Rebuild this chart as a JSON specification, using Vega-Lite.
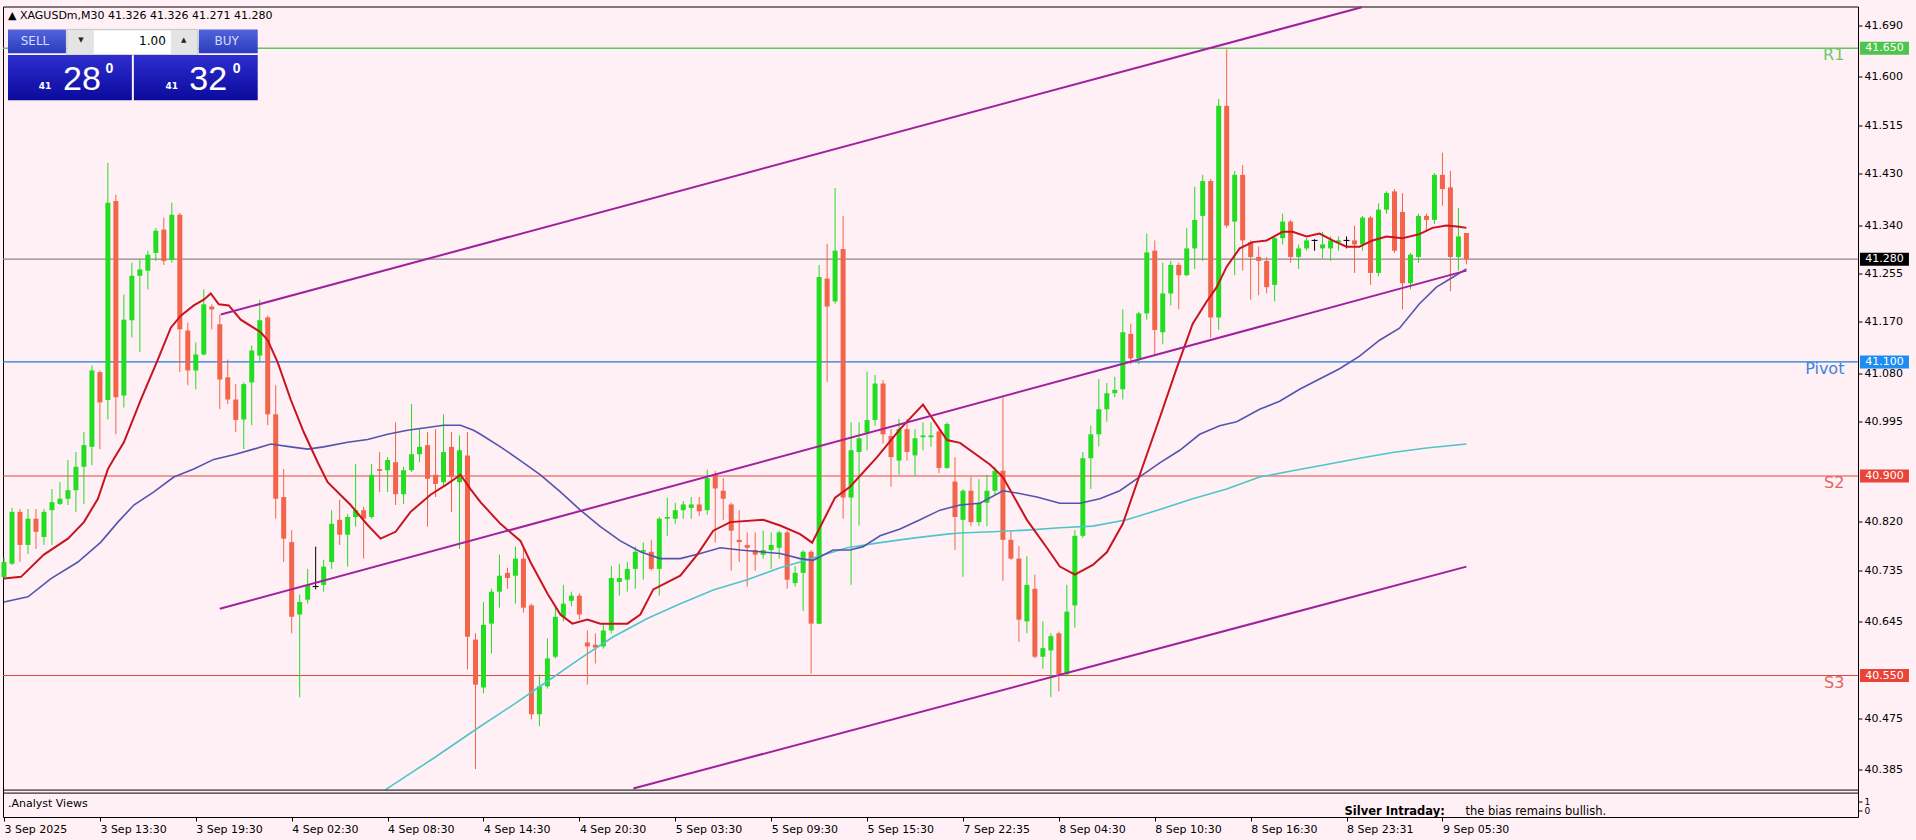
{
"$schema": "https://vega.github.io/schema/vega-lite/v6.json",
"background": "#FFF0F5",
"padding": {"left": 0, "top": 2.5, "right": 6, "bottom": 6},
"autosize": {"type": "fit", "contains": "padding"},
"width": 1916,
"height": 840,
"config": {
  "view": {"stroke": "#000000", "strokeWidth": 1, "fill": "#FFF0F5"},
  "axis": {"grid": false, "domain": false, "tickColor": "#000000", "labelColor": "#000000", "labelFont": "DejaVu Sans", "labelFontSize": 11},
  "text": {"font": "DejaVu Sans"}
},
"resolve": {"scale": {"color": "independent", "strokeWidth": "independent"}},
"datasets": {
"candles": [
{"i":0,"o":40.723,"h":40.757,"l":40.718,"c":40.749},
{"i":1,"o":40.746,"h":40.844,"l":40.744,"c":40.837},
{"i":2,"o":40.837,"h":40.842,"l":40.749,"c":40.779},
{"i":3,"o":40.779,"h":40.842,"l":40.763,"c":40.825},
{"i":4,"o":40.825,"h":40.842,"l":40.772,"c":40.802},
{"i":5,"o":40.793,"h":40.842,"l":40.779,"c":40.837},
{"i":6,"o":40.840,"h":40.877,"l":40.779,"c":40.854},
{"i":7,"o":40.851,"h":40.889,"l":40.849,"c":40.860},
{"i":8,"o":40.860,"h":40.928,"l":40.849,"c":40.875},
{"i":9,"o":40.875,"h":40.942,"l":40.837,"c":40.916},
{"i":10,"o":40.916,"h":40.977,"l":40.851,"c":40.954},
{"i":11,"o":40.951,"h":41.094,"l":40.919,"c":41.085},
{"i":12,"o":41.082,"h":41.085,"l":40.947,"c":41.029},
{"i":13,"o":41.033,"h":41.449,"l":40.999,"c":41.379},
{"i":14,"o":41.382,"h":41.393,"l":40.973,"c":41.038},
{"i":15,"o":41.041,"h":41.218,"l":41.020,"c":41.174},
{"i":16,"o":41.173,"h":41.274,"l":41.143,"c":41.251},
{"i":17,"o":41.251,"h":41.279,"l":41.117,"c":41.262},
{"i":18,"o":41.260,"h":41.295,"l":41.227,"c":41.288},
{"i":19,"o":41.291,"h":41.335,"l":41.277,"c":41.330},
{"i":20,"o":41.332,"h":41.353,"l":41.270,"c":41.277},
{"i":21,"o":41.279,"h":41.379,"l":41.274,"c":41.358},
{"i":22,"o":41.358,"h":41.361,"l":41.082,"c":41.157},
{"i":23,"o":41.155,"h":41.169,"l":41.059,"c":41.085},
{"i":24,"o":41.085,"h":41.134,"l":41.052,"c":41.113},
{"i":25,"o":41.113,"h":41.227,"l":41.111,"c":41.201},
{"i":26,"o":41.197,"h":41.201,"l":41.157,"c":41.192},
{"i":27,"o":41.166,"h":41.183,"l":41.017,"c":41.069},
{"i":28,"o":41.073,"h":41.104,"l":41.026,"c":41.034},
{"i":29,"o":41.034,"h":41.061,"l":40.977,"c":40.998},
{"i":30,"o":40.999,"h":41.064,"l":40.947,"c":41.061},
{"i":31,"o":41.064,"h":41.129,"l":40.989,"c":41.120},
{"i":32,"o":41.111,"h":41.209,"l":41.099,"c":41.173},
{"i":33,"o":41.178,"h":41.181,"l":40.989,"c":41.008},
{"i":34,"o":41.008,"h":41.059,"l":40.825,"c":40.860},
{"i":35,"o":40.863,"h":40.912,"l":40.749,"c":40.790},
{"i":36,"o":40.784,"h":40.805,"l":40.624,"c":40.653},
{"i":37,"o":40.657,"h":40.692,"l":40.512,"c":40.679},
{"i":38,"o":40.683,"h":40.737,"l":40.676,"c":40.709},
{"i":39,"o":40.706,"h":40.776,"l":40.701,"c":40.706},
{"i":40,"o":40.709,"h":40.753,"l":40.697,"c":40.741},
{"i":41,"o":40.749,"h":40.840,"l":40.737,"c":40.816},
{"i":42,"o":40.823,"h":40.858,"l":40.779,"c":40.797},
{"i":43,"o":40.797,"h":40.833,"l":40.741,"c":40.828},
{"i":44,"o":40.828,"h":40.921,"l":40.811,"c":40.840},
{"i":45,"o":40.840,"h":40.846,"l":40.755,"c":40.825},
{"i":46,"o":40.828,"h":40.921,"l":40.825,"c":40.902},
{"i":47,"o":40.912,"h":40.942,"l":40.872,"c":40.909},
{"i":48,"o":40.910,"h":40.933,"l":40.872,"c":40.928},
{"i":49,"o":40.924,"h":40.994,"l":40.849,"c":40.868},
{"i":50,"o":40.868,"h":40.916,"l":40.851,"c":40.910},
{"i":51,"o":40.910,"h":41.026,"l":40.907,"c":40.938},
{"i":52,"o":40.938,"h":40.982,"l":40.924,"c":40.951},
{"i":53,"o":40.954,"h":40.977,"l":40.811,"c":40.895},
{"i":54,"o":40.902,"h":40.982,"l":40.863,"c":40.886},
{"i":55,"o":40.889,"h":41.008,"l":40.881,"c":40.942},
{"i":56,"o":40.951,"h":40.977,"l":40.837,"c":40.898},
{"i":57,"o":40.889,"h":40.971,"l":40.772,"c":40.945},
{"i":58,"o":40.936,"h":40.977,"l":40.561,"c":40.618},
{"i":59,"o":40.613,"h":40.624,"l":40.386,"c":40.534},
{"i":60,"o":40.529,"h":40.679,"l":40.519,"c":40.639},
{"i":61,"o":40.641,"h":40.702,"l":40.589,"c":40.697},
{"i":62,"o":40.697,"h":40.762,"l":40.669,"c":40.725},
{"i":63,"o":40.730,"h":40.739,"l":40.702,"c":40.721},
{"i":64,"o":40.725,"h":40.776,"l":40.676,"c":40.755},
{"i":65,"o":40.755,"h":40.774,"l":40.660,"c":40.669},
{"i":66,"o":40.673,"h":40.676,"l":40.473,"c":40.482},
{"i":67,"o":40.482,"h":40.552,"l":40.461,"c":40.531},
{"i":68,"o":40.531,"h":40.615,"l":40.527,"c":40.580},
{"i":69,"o":40.583,"h":40.671,"l":40.580,"c":40.653},
{"i":70,"o":40.653,"h":40.709,"l":40.645,"c":40.676},
{"i":71,"o":40.681,"h":40.697,"l":40.671,"c":40.690},
{"i":72,"o":40.690,"h":40.694,"l":40.648,"c":40.657},
{"i":73,"o":40.608,"h":40.629,"l":40.534,"c":40.601},
{"i":74,"o":40.604,"h":40.624,"l":40.571,"c":40.599},
{"i":75,"o":40.601,"h":40.639,"l":40.597,"c":40.629},
{"i":76,"o":40.629,"h":40.742,"l":40.624,"c":40.721},
{"i":77,"o":40.714,"h":40.746,"l":40.690,"c":40.721},
{"i":78,"o":40.718,"h":40.749,"l":40.697,"c":40.737},
{"i":79,"o":40.737,"h":40.776,"l":40.702,"c":40.767},
{"i":80,"o":40.767,"h":40.783,"l":40.718,"c":40.770},
{"i":81,"o":40.767,"h":40.788,"l":40.734,"c":40.737},
{"i":82,"o":40.737,"h":40.828,"l":40.690,"c":40.825},
{"i":83,"o":40.825,"h":40.862,"l":40.795,"c":40.828},
{"i":84,"o":40.825,"h":40.853,"l":40.816,"c":40.840},
{"i":85,"o":40.840,"h":40.856,"l":40.825,"c":40.850},
{"i":86,"o":40.844,"h":40.863,"l":40.825,"c":40.850},
{"i":87,"o":40.850,"h":40.863,"l":40.830,"c":40.838},
{"i":88,"o":40.840,"h":40.911,"l":40.832,"c":40.896},
{"i":89,"o":40.902,"h":40.909,"l":40.783,"c":40.878},
{"i":90,"o":40.874,"h":40.896,"l":40.823,"c":40.860},
{"i":91,"o":40.850,"h":40.853,"l":40.734,"c":40.804},
{"i":92,"o":40.788,"h":40.840,"l":40.749,"c":40.784},
{"i":93,"o":40.779,"h":40.801,"l":40.706,"c":40.774},
{"i":94,"o":40.770,"h":40.801,"l":40.734,"c":40.762},
{"i":95,"o":40.762,"h":40.804,"l":40.755,"c":40.770},
{"i":96,"o":40.770,"h":40.801,"l":40.737,"c":40.779},
{"i":97,"o":40.774,"h":40.804,"l":40.755,"c":40.801},
{"i":98,"o":40.801,"h":40.804,"l":40.702,"c":40.718},
{"i":99,"o":40.712,"h":40.742,"l":40.706,"c":40.730},
{"i":100,"o":40.730,"h":40.770,"l":40.663,"c":40.767},
{"i":101,"o":40.767,"h":40.770,"l":40.553,"c":40.641},
{"i":102,"o":40.641,"h":41.270,"l":40.640,"c":41.249},
{"i":103,"o":41.246,"h":41.307,"l":41.065,"c":41.197},
{"i":104,"o":41.206,"h":41.405,"l":41.202,"c":41.295},
{"i":105,"o":41.298,"h":41.356,"l":40.825,"c":40.862},
{"i":106,"o":40.862,"h":40.994,"l":40.709,"c":40.945},
{"i":107,"o":40.942,"h":40.994,"l":40.813,"c":40.966},
{"i":108,"o":40.976,"h":41.083,"l":40.945,"c":40.998},
{"i":109,"o":40.998,"h":41.077,"l":40.988,"c":41.062},
{"i":110,"o":41.062,"h":41.068,"l":40.957,"c":40.973},
{"i":111,"o":40.970,"h":40.982,"l":40.881,"c":40.933},
{"i":112,"o":40.927,"h":41.000,"l":40.902,"c":40.982},
{"i":113,"o":40.982,"h":41.000,"l":40.927,"c":40.942},
{"i":114,"o":40.936,"h":40.982,"l":40.900,"c":40.966},
{"i":115,"o":40.968,"h":40.994,"l":40.945,"c":40.971},
{"i":116,"o":40.968,"h":40.994,"l":40.951,"c":40.971},
{"i":117,"o":40.978,"h":40.982,"l":40.905,"c":40.914},
{"i":118,"o":40.914,"h":40.994,"l":40.912,"c":40.991},
{"i":119,"o":40.890,"h":40.933,"l":40.770,"c":40.828},
{"i":120,"o":40.823,"h":40.877,"l":40.723,"c":40.874},
{"i":121,"o":40.874,"h":40.898,"l":40.812,"c":40.819},
{"i":122,"o":40.819,"h":40.894,"l":40.812,"c":40.853},
{"i":123,"o":40.853,"h":40.902,"l":40.812,"c":40.874},
{"i":124,"o":40.874,"h":40.916,"l":40.867,"c":40.909},
{"i":125,"o":40.909,"h":41.038,"l":40.716,"c":40.788},
{"i":126,"o":40.788,"h":40.805,"l":40.753,"c":40.755},
{"i":127,"o":40.755,"h":40.777,"l":40.609,"c":40.648},
{"i":128,"o":40.645,"h":40.759,"l":40.624,"c":40.709},
{"i":129,"o":40.702,"h":40.727,"l":40.580,"c":40.583},
{"i":130,"o":40.583,"h":40.645,"l":40.562,"c":40.598},
{"i":131,"o":40.594,"h":40.624,"l":40.512,"c":40.619},
{"i":132,"o":40.624,"h":40.627,"l":40.522,"c":40.552},
{"i":133,"o":40.552,"h":40.709,"l":40.548,"c":40.662},
{"i":134,"o":40.673,"h":40.805,"l":40.634,"c":40.795},
{"i":135,"o":40.795,"h":40.942,"l":40.791,"c":40.931},
{"i":136,"o":40.931,"h":40.988,"l":40.877,"c":40.973},
{"i":137,"o":40.973,"h":41.070,"l":40.952,"c":41.017},
{"i":138,"o":41.017,"h":41.063,"l":40.995,"c":41.045},
{"i":139,"o":41.045,"h":41.074,"l":41.038,"c":41.051},
{"i":140,"o":41.052,"h":41.192,"l":41.034,"c":41.152},
{"i":141,"o":41.149,"h":41.167,"l":41.096,"c":41.106},
{"i":142,"o":41.106,"h":41.188,"l":41.096,"c":41.185},
{"i":143,"o":41.185,"h":41.325,"l":41.174,"c":41.292},
{"i":144,"o":41.295,"h":41.313,"l":41.113,"c":41.156},
{"i":145,"o":41.152,"h":41.274,"l":41.131,"c":41.220},
{"i":146,"o":41.220,"h":41.277,"l":41.199,"c":41.270},
{"i":147,"o":41.270,"h":41.274,"l":41.192,"c":41.252},
{"i":148,"o":41.252,"h":41.335,"l":41.250,"c":41.299},
{"i":149,"o":41.299,"h":41.407,"l":41.263,"c":41.349},
{"i":150,"o":41.356,"h":41.428,"l":41.277,"c":41.417},
{"i":151,"o":41.417,"h":41.421,"l":41.142,"c":41.178},
{"i":152,"o":41.178,"h":41.561,"l":41.156,"c":41.549},
{"i":153,"o":41.549,"h":41.648,"l":41.335,"c":41.339},
{"i":154,"o":41.346,"h":41.435,"l":41.252,"c":41.428},
{"i":155,"o":41.428,"h":41.445,"l":41.260,"c":41.313},
{"i":156,"o":41.310,"h":41.313,"l":41.209,"c":41.284},
{"i":157,"o":41.284,"h":41.302,"l":41.217,"c":41.277},
{"i":158,"o":41.277,"h":41.284,"l":41.220,"c":41.231},
{"i":159,"o":41.235,"h":41.320,"l":41.206,"c":41.317},
{"i":160,"o":41.317,"h":41.360,"l":41.306,"c":41.346},
{"i":161,"o":41.346,"h":41.349,"l":41.274,"c":41.284},
{"i":162,"o":41.284,"h":41.306,"l":41.263,"c":41.299},
{"i":163,"o":41.299,"h":41.317,"l":41.295,"c":41.313},
{"i":164,"o":41.313,"h":41.315,"l":41.295,"c":41.313},
{"i":165,"o":41.299,"h":41.328,"l":41.281,"c":41.306},
{"i":166,"o":41.299,"h":41.320,"l":41.277,"c":41.313},
{"i":167,"o":41.310,"h":41.320,"l":41.295,"c":41.313},
{"i":168,"o":41.313,"h":41.320,"l":41.299,"c":41.313},
{"i":169,"o":41.313,"h":41.339,"l":41.256,"c":41.306},
{"i":170,"o":41.306,"h":41.356,"l":41.295,"c":41.353},
{"i":171,"o":41.353,"h":41.356,"l":41.235,"c":41.256},
{"i":172,"o":41.256,"h":41.378,"l":41.250,"c":41.367},
{"i":173,"o":41.367,"h":41.399,"l":41.360,"c":41.396},
{"i":174,"o":41.399,"h":41.403,"l":41.291,"c":41.295},
{"i":175,"o":41.363,"h":41.396,"l":41.192,"c":41.238},
{"i":176,"o":41.238,"h":41.291,"l":41.227,"c":41.288},
{"i":177,"o":41.284,"h":41.360,"l":41.274,"c":41.356},
{"i":178,"o":41.356,"h":41.360,"l":41.328,"c":41.349},
{"i":179,"o":41.349,"h":41.431,"l":41.342,"c":41.428},
{"i":180,"o":41.428,"h":41.467,"l":41.374,"c":41.403},
{"i":181,"o":41.406,"h":41.435,"l":41.224,"c":41.284},
{"i":182,"o":41.284,"h":41.370,"l":41.260,"c":41.320},
{"i":183,"o":41.326,"h":41.326,"l":41.271,"c":41.280}
],
"ma": [
{"m":"fast","i":0,"p":40.720},{"m":"fast","i":2.125,"p":40.723},{"m":"fast","i":5,"p":40.762},{"m":"fast","i":8,"p":40.790},{"m":"fast","i":10,"p":40.819},{"m":"fast","i":11.75,"p":40.860},{"m":"fast","i":13,"p":40.912},{"m":"fast","i":13.75,"p":40.930},{"m":"fast","i":15,"p":40.959},{"m":"fast","i":17.125,"p":41.034},{"m":"fast","i":19.25,"p":41.104},{"m":"fast","i":20.875,"p":41.160},{"m":"fast","i":22.125,"p":41.181},{"m":"fast","i":23.75,"p":41.199},{"m":"fast","i":25,"p":41.209},{"m":"fast","i":25.875,"p":41.220},{"m":"fast","i":26.875,"p":41.201},{"m":"fast","i":28.125,"p":41.199},{"m":"fast","i":29.625,"p":41.174},{"m":"fast","i":32.125,"p":41.152},{"m":"fast","i":33,"p":41.138},{"m":"fast","i":34.25,"p":41.099},{"m":"fast","i":35.875,"p":41.034},{"m":"fast","i":37.5,"p":40.977},{"m":"fast","i":39.25,"p":40.924},{"m":"fast","i":40.5,"p":40.889},{"m":"fast","i":43.375,"p":40.849},{"m":"fast","i":45.5,"p":40.814},{"m":"fast","i":47.125,"p":40.790},{"m":"fast","i":49,"p":40.802},{"m":"fast","i":50.875,"p":40.837},{"m":"fast","i":53.375,"p":40.867},{"m":"fast","i":55.5,"p":40.886},{"m":"fast","i":57.125,"p":40.902},{"m":"fast","i":58.375,"p":40.877},{"m":"fast","i":59.625,"p":40.854},{"m":"fast","i":62.125,"p":40.816},{"m":"fast","i":64.625,"p":40.786},{"m":"fast","i":65.875,"p":40.749},{"m":"fast","i":68,"p":40.694},{"m":"fast","i":69.625,"p":40.657},{"m":"fast","i":71.125,"p":40.641},{"m":"fast","i":73,"p":40.648},{"m":"fast","i":74.625,"p":40.641},{"m":"fast","i":78,"p":40.641},{"m":"fast","i":79.625,"p":40.657},{"m":"fast","i":81.25,"p":40.701},{"m":"fast","i":84.625,"p":40.725},{"m":"fast","i":86.75,"p":40.762},{"m":"fast","i":88.75,"p":40.804},{"m":"fast","i":90.875,"p":40.819},{"m":"fast","i":95,"p":40.823},{"m":"fast","i":97.125,"p":40.813},{"m":"fast","i":99.625,"p":40.798},{"m":"fast","i":101.125,"p":40.783},{"m":"fast","i":104,"p":40.862},{"m":"fast","i":105.875,"p":40.881},{"m":"fast","i":109.25,"p":40.933},{"m":"fast","i":112.125,"p":40.982},{"m":"fast","i":115,"p":41.025},{"m":"fast","i":118,"p":40.963},{"m":"fast","i":119.625,"p":40.958},{"m":"fast","i":123.375,"p":40.920},{"m":"fast","i":125,"p":40.898},{"m":"fast","i":128,"p":40.823},{"m":"fast","i":130.5,"p":40.774},{"m":"fast","i":132.125,"p":40.741},{"m":"fast","i":134,"p":40.727},{"m":"fast","i":136.25,"p":40.744},{"m":"fast","i":138,"p":40.766},{"m":"fast","i":140,"p":40.816},{"m":"fast","i":142.125,"p":40.902},{"m":"fast","i":144.625,"p":41.002},{"m":"fast","i":146.75,"p":41.089},{"m":"fast","i":148.75,"p":41.167},{"m":"fast","i":150.5,"p":41.206},{"m":"fast","i":151.75,"p":41.231},{"m":"fast","i":153,"p":41.267},{"m":"fast","i":154.625,"p":41.299},{"m":"fast","i":156.25,"p":41.310},{"m":"fast","i":158,"p":41.313},{"m":"fast","i":160,"p":41.328},{"m":"fast","i":161.25,"p":41.328},{"m":"fast","i":163,"p":41.320},{"m":"fast","i":164.625,"p":41.325},{"m":"fast","i":166.25,"p":41.313},{"m":"fast","i":168,"p":41.302},{"m":"fast","i":169.625,"p":41.302},{"m":"fast","i":171.25,"p":41.313},{"m":"fast","i":173,"p":41.320},{"m":"fast","i":175,"p":41.317},{"m":"fast","i":177.125,"p":41.324},{"m":"fast","i":178.75,"p":41.335},{"m":"fast","i":180.5,"p":41.339},{"m":"fast","i":182.125,"p":41.337},{"m":"fast","i":183,"p":41.335},
{"m":"slow","i":0,"p":40.679},{"m":"slow","i":3,"p":40.688},{"m":"slow","i":5.875,"p":40.720},{"m":"slow","i":9.25,"p":40.749},{"m":"slow","i":12.125,"p":40.784},{"m":"slow","i":14.25,"p":40.819},{"m":"slow","i":16.25,"p":40.849},{"m":"slow","i":18.75,"p":40.872},{"m":"slow","i":21.25,"p":40.898},{"m":"slow","i":23.75,"p":40.912},{"m":"slow","i":26.25,"p":40.929},{"m":"slow","i":28.75,"p":40.937},{"m":"slow","i":31.25,"p":40.947},{"m":"slow","i":33.375,"p":40.956},{"m":"slow","i":35.875,"p":40.951},{"m":"slow","i":38,"p":40.947},{"m":"slow","i":40,"p":40.951},{"m":"slow","i":43,"p":40.959},{"m":"slow","i":45.5,"p":40.964},{"m":"slow","i":48,"p":40.973},{"m":"slow","i":50.5,"p":40.980},{"m":"slow","i":53,"p":40.985},{"m":"slow","i":55,"p":40.989},{"m":"slow","i":57.125,"p":40.989},{"m":"slow","i":58.75,"p":40.980},{"m":"slow","i":59.625,"p":40.973},{"m":"slow","i":62.125,"p":40.951},{"m":"slow","i":64.625,"p":40.927},{"m":"slow","i":67.125,"p":40.902},{"m":"slow","i":69.625,"p":40.872},{"m":"slow","i":72.125,"p":40.840},{"m":"slow","i":74.625,"p":40.811},{"m":"slow","i":77.125,"p":40.786},{"m":"slow","i":79.625,"p":40.767},{"m":"slow","i":82.125,"p":40.755},{"m":"slow","i":84.625,"p":40.755},{"m":"slow","i":87.125,"p":40.764},{"m":"slow","i":89.625,"p":40.774},{"m":"slow","i":92.125,"p":40.770},{"m":"slow","i":94.625,"p":40.767},{"m":"slow","i":97.125,"p":40.764},{"m":"slow","i":99.625,"p":40.755},{"m":"slow","i":101.25,"p":40.752},{"m":"slow","i":103.75,"p":40.770},{"m":"slow","i":105.875,"p":40.770},{"m":"slow","i":107.5,"p":40.776},{"m":"slow","i":109.625,"p":40.795},{"m":"slow","i":112.125,"p":40.807},{"m":"slow","i":114.625,"p":40.823},{"m":"slow","i":117.125,"p":40.840},{"m":"slow","i":119.625,"p":40.849},{"m":"slow","i":122.125,"p":40.852},{"m":"slow","i":125,"p":40.874},{"m":"slow","i":126.75,"p":40.870},{"m":"slow","i":129.25,"p":40.863},{"m":"slow","i":132.125,"p":40.852},{"m":"slow","i":134.625,"p":40.852},{"m":"slow","i":137.125,"p":40.860},{"m":"slow","i":139.625,"p":40.874},{"m":"slow","i":141.75,"p":40.895},{"m":"slow","i":144.625,"p":40.923},{"m":"slow","i":147.125,"p":40.945},{"m":"slow","i":149.625,"p":40.973},{"m":"slow","i":152.125,"p":40.988},{"m":"slow","i":154.25,"p":40.995},{"m":"slow","i":157.125,"p":41.017},{"m":"slow","i":159.625,"p":41.031},{"m":"slow","i":162.125,"p":41.052},{"m":"slow","i":164.625,"p":41.070},{"m":"slow","i":167.125,"p":41.088},{"m":"slow","i":169.625,"p":41.110},{"m":"slow","i":172.125,"p":41.138},{"m":"slow","i":174.625,"p":41.159},{"m":"slow","i":177.125,"p":41.202},{"m":"slow","i":179.25,"p":41.231},{"m":"slow","i":180.875,"p":41.245},{"m":"slow","i":183,"p":41.263},
{"m":"long","i":47.75,"p":40.350},{"m":"long","i":53.75,"p":40.405},{"m":"long","i":59.625,"p":40.461},{"m":"long","i":63.75,"p":40.499},{"m":"long","i":68,"p":40.540},{"m":"long","i":72.125,"p":40.580},{"m":"long","i":76.25,"p":40.618},{"m":"long","i":80.5,"p":40.650},{"m":"long","i":84.625,"p":40.676},{"m":"long","i":88.75,"p":40.700},{"m":"long","i":93,"p":40.718},{"m":"long","i":97.125,"p":40.739},{"m":"long","i":99.625,"p":40.749},{"m":"long","i":101.25,"p":40.756},{"m":"long","i":105.5,"p":40.774},{"m":"long","i":109.625,"p":40.783},{"m":"long","i":113.75,"p":40.791},{"m":"long","i":118,"p":40.798},{"m":"long","i":119.625,"p":40.800},{"m":"long","i":123.75,"p":40.802},{"m":"long","i":128,"p":40.805},{"m":"long","i":132.125,"p":40.809},{"m":"long","i":136.25,"p":40.812},{"m":"long","i":140.5,"p":40.823},{"m":"long","i":144.625,"p":40.841},{"m":"long","i":148.75,"p":40.860},{"m":"long","i":153,"p":40.877},{"m":"long","i":157.125,"p":40.898},{"m":"long","i":161.25,"p":40.909},{"m":"long","i":165.5,"p":40.920},{"m":"long","i":169.625,"p":40.931},{"m":"long","i":173.75,"p":40.941},{"m":"long","i":178,"p":40.949},{"m":"long","i":183,"p":40.956}
],
"chan": [
{"g":"upper","i":27.125,"p":41.183},{"g":"upper","i":169.9,"p":41.722},
{"g":"mid","i":27.0,"p":40.667},{"g":"mid","i":183.0,"p":41.260},
{"g":"lower","i":78.75,"p":40.352},{"g":"lower","i":183.0,"p":40.741}
],
"levels": [
{"name":"R1","price":41.650},
{"name":"Bid","price":41.280},
{"name":"Pivot","price":41.100},
{"name":"S2","price":40.900},
{"name":"S3","price":40.550}
]
},
"layer": [
{"data": {"name": "levels"}, "mark": {"type": "rule"},
 "encoding": {
  "y": {"field": "price", "type": "quantitative", "title": null, "scale": {"domain": [40.3019, 41.7232], "nice": false, "zero": false},
        "axis": {"orient": "right", "values": [41.69, 41.6, 41.515, 41.43, 41.34, 41.255, 41.17, 41.08, 40.995, 40.82, 40.735, 40.645, 40.475, 40.385, 40.3298, 40.3141],
                 "labelExpr": "datum.value < 40.34 ? (datum.value > 40.32 ? '1' : '0') : format(datum.value, '.3f')",
                 "labelFontSize": {"condition": {"test": "datum.value < 40.34", "value": 9}, "value": 11},
                 "tickSize": 4, "labelPadding": 2, "labelOverlap": false, "labelFlush": false, "labelBound": false, "title": null}},
  "color": {"field": "name", "type": "nominal", "legend": null, "scale": {"domain": ["R1", "Bid", "Pivot", "S2", "S3"], "range": ["#63C463", "#8A8A8A", "#1F7BD8", "#E4453A", "#D9463A"]}},
  "strokeWidth": {"field": "name", "type": "nominal", "legend": null, "scale": {"domain": ["R1", "Bid", "Pivot", "S2", "S3"], "range": [1.3, 1, 2, 1.6, 2]}}
 }},
{"data": {"name": "candles"}, "mark": {"type": "rule", "strokeWidth": 1},
 "encoding": {
  "x": {"field": "i", "type": "quantitative", "title": null, "scale": {"domain": [-0.125, 232], "nice": false, "zero": false},
        "axis": {"orient": "bottom", "values": [0, 12, 24, 36, 48, 60, 72, 84, 96, 108, 120, 132, 144, 156, 168, 180],
                 "labelExpr": "['3 Sep 2025','3 Sep 13:30','3 Sep 19:30','4 Sep 02:30','4 Sep 08:30','4 Sep 14:30','4 Sep 20:30','5 Sep 03:30','5 Sep 09:30','5 Sep 15:30','7 Sep 22:35','8 Sep 04:30','8 Sep 10:30','8 Sep 16:30','8 Sep 23:31','9 Sep 05:30'][round(datum.value / 12)]",
                 "labelAlign": "left", "labelPadding": 2, "tickSize": 4, "labelOverlap": false, "labelFlush": false, "labelBound": false, "title": null}},
  "y": {"field": "l", "type": "quantitative", "title": null},
  "y2": {"field": "h"},
  "color": {"condition": [{"test": "datum.c > datum.o", "value": "#22DD22"}, {"test": "datum.c == datum.o", "value": "#000000"}], "value": "#F2654A"}
 }},
{"data": {"name": "candles"}, "mark": {"type": "rule", "strokeWidth": 5, "strokeCap": "butt"},
 "encoding": {
  "x": {"field": "i", "type": "quantitative", "title": null},
  "y": {"field": "o", "type": "quantitative", "title": null},
  "y2": {"field": "c"},
  "color": {"condition": [{"test": "datum.c > datum.o", "value": "#22DD22"}, {"test": "datum.c == datum.o", "value": "#000000"}], "value": "#F2654A"}
 }},
{"data": {"name": "candles"}, "transform": [{"filter": "datum.c == datum.o"}], "mark": {"type": "point", "shape": "M-1,0H1", "size": 36, "filled": false, "stroke": "#000000", "strokeWidth": 1, "opacity": 1},
 "encoding": {
  "x": {"field": "i", "type": "quantitative", "title": null},
  "y": {"field": "o", "type": "quantitative", "title": null}
 }},
{"data": {"name": "ma"}, "transform": [{"filter": "datum.m == 'long'"}], "mark": {"type": "line", "color": "#4EC5CB", "strokeWidth": 1.6},
 "encoding": {"x": {"field": "i", "type": "quantitative", "title": null}, "y": {"field": "p", "type": "quantitative", "title": null}}},
{"data": {"name": "ma"}, "transform": [{"filter": "datum.m == 'slow'"}], "mark": {"type": "line", "color": "#5454AE", "strokeWidth": 1.6},
 "encoding": {"x": {"field": "i", "type": "quantitative", "title": null}, "y": {"field": "p", "type": "quantitative", "title": null}}},
{"data": {"name": "ma"}, "transform": [{"filter": "datum.m == 'fast'"}], "mark": {"type": "line", "color": "#C8141E", "strokeWidth": 2},
 "encoding": {"x": {"field": "i", "type": "quantitative", "title": null}, "y": {"field": "p", "type": "quantitative", "title": null}}},
{"data": {"name": "chan"}, "mark": {"type": "line", "color": "#A0219E", "strokeWidth": 2},
 "encoding": {"x": {"field": "i", "type": "quantitative", "title": null}, "y": {"field": "p", "type": "quantitative", "title": null}, "detail": {"field": "g"}}},
{"data": {"values": [{}]}, "mark": {"type": "rule", "color": "#000000", "strokeWidth": 1},
 "encoding": {"y": {"datum": 40.3491, "type": "quantitative", "title": null}}},
{"data": {"values": [{}]}, "mark": {"type": "rule", "color": "#000000", "strokeWidth": 1},
 "encoding": {"y": {"datum": 40.3438, "type": "quantitative", "title": null}}},
{"data": {"name": "levels"}, "transform": [{"filter": "datum.name != 'Bid'"}], "mark": {"type": "text", "align": "right", "baseline": "top", "dy": -1, "fontSize": 16, "font": "DejaVu Sans"},
 "encoding": {
  "x": {"datum": 230.3, "type": "quantitative", "title": null},
  "y": {"field": "price", "type": "quantitative", "title": null},
  "text": {"field": "name"},
  "color": {"field": "name", "type": "nominal", "legend": null, "scale": {"domain": ["R1", "Pivot", "S2", "S3"], "range": ["#6CC76C", "#3A86D8", "#E0675C", "#E0675C"]}}
 }},
{"data": {"name": "levels"}, "mark": {"type": "point", "shape": "M-1,-0.2653H1V0.2653H-1Z", "size": 2401, "filled": true, "opacity": 1, "strokeWidth": 0},
 "encoding": {
  "x": {"datum": 235.31, "type": "quantitative", "title": null},
  "y": {"field": "price", "type": "quantitative", "title": null},
  "color": {"field": "name", "type": "nominal", "legend": null, "scale": {"domain": ["R1", "Bid", "Pivot", "S2", "S3"], "range": ["#4DC44D", "#000000", "#1E8CF0", "#EA4438", "#EA4438"]}}
 }},
{"data": {"name": "levels"}, "mark": {"type": "text", "align": "center", "baseline": "middle", "fontSize": 11, "color": "#FFFFFF", "font": "DejaVu Sans"},
 "encoding": {
  "x": {"datum": 235.31, "type": "quantitative", "title": null},
  "y": {"field": "price", "type": "quantitative", "title": null},
  "text": {"field": "price", "type": "quantitative", "format": ".3f"}
 }},
{"data": {"values": [{}]}, "mark": {"type": "text", "align": "left", "baseline": "middle", "fontSize": 11, "color": "#000000", "font": "DejaVu Sans"},
 "encoding": {"x": {"datum": 0.5, "type": "quantitative", "title": null}, "y": {"datum": 41.706, "type": "quantitative", "title": null}, "text": {"value": "▲ XAGUSDm,M30  41.326 41.326 41.271 41.280"}}},
{"data": {"values": [{}]}, "mark": {"type": "rect", "color": {"gradient": "linear", "x1": 0, "y1": 0, "x2": 0, "y2": 1, "stops": [{"offset": 0, "color": "#5264DA"}, {"offset": 1, "color": "#2A3CBE"}]}},
 "encoding": {"x": {"datum": 0.5, "type": "quantitative", "title": null}, "x2": {"datum": 7.75}, "y": {"datum": 41.683, "type": "quantitative", "title": null}, "y2": {"datum": 41.641}}},
{"data": {"values": [{}]}, "mark": {"type": "rect", "color": {"gradient": "linear", "x1": 0, "y1": 0, "x2": 0, "y2": 1, "stops": [{"offset": 0, "color": "#5264DA"}, {"offset": 1, "color": "#2A3CBE"}]}},
 "encoding": {"x": {"datum": 24.375, "type": "quantitative", "title": null}, "x2": {"datum": 31.75}, "y": {"datum": 41.683, "type": "quantitative", "title": null}, "y2": {"datum": 41.641}}},
{"data": {"values": [{}]}, "mark": {"type": "rect", "color": "#E4E4E4", "stroke": "#C8C8C8", "strokeWidth": 1},
 "encoding": {"x": {"datum": 7.875, "type": "quantitative", "title": null}, "x2": {"datum": 24.25}, "y": {"datum": 41.683, "type": "quantitative", "title": null}, "y2": {"datum": 41.638}}},
{"data": {"values": [{}]}, "mark": {"type": "rect", "color": "#FFFFFF"},
 "encoding": {"x": {"datum": 11.25, "type": "quantitative", "title": null}, "x2": {"datum": 20.875}, "y": {"datum": 41.681, "type": "quantitative", "title": null}, "y2": {"datum": 41.640}}},
{"data": {"values": [{}]}, "mark": {"type": "rect", "color": {"gradient": "linear", "x1": 0, "y1": 0, "x2": 0, "y2": 1, "stops": [{"offset": 0, "color": "#2E2ED0"}, {"offset": 1, "color": "#0A0A9C"}]}},
 "encoding": {"x": {"datum": 0.5, "type": "quantitative", "title": null}, "x2": {"datum": 16.0}, "y": {"datum": 41.638, "type": "quantitative", "title": null}, "y2": {"datum": 41.559}}},
{"data": {"values": [{}]}, "mark": {"type": "rect", "color": {"gradient": "linear", "x1": 0, "y1": 0, "x2": 0, "y2": 1, "stops": [{"offset": 0, "color": "#2E2ED0"}, {"offset": 1, "color": "#0A0A9C"}]}},
 "encoding": {"x": {"datum": 16.25, "type": "quantitative", "title": null}, "x2": {"datum": 31.75}, "y": {"datum": 41.638, "type": "quantitative", "title": null}, "y2": {"datum": 41.559}}},
{"data": {"values": [{}]}, "mark": {"type": "text", "align": "center", "baseline": "middle", "fontSize": 12, "color": "#D6DCFF", "font": "DejaVu Sans"},
 "encoding": {"x": {"datum": 3.875, "type": "quantitative", "title": null}, "y": {"datum": 41.662, "type": "quantitative", "title": null}, "text": {"value": "SELL"}}},
{"data": {"values": [{}]}, "mark": {"type": "text", "align": "center", "baseline": "middle", "fontSize": 12, "color": "#D6DCFF", "font": "DejaVu Sans"},
 "encoding": {"x": {"datum": 27.875, "type": "quantitative", "title": null}, "y": {"datum": 41.662, "type": "quantitative", "title": null}, "text": {"value": "BUY"}}},
{"data": {"values": [{}]}, "mark": {"type": "text", "align": "right", "baseline": "middle", "fontSize": 12, "color": "#000000", "font": "DejaVu Sans"},
 "encoding": {"x": {"datum": 20.25, "type": "quantitative", "title": null}, "y": {"datum": 41.662, "type": "quantitative", "title": null}, "text": {"value": "1.00"}}},
{"data": {"values": [{}]}, "mark": {"type": "text", "align": "center", "baseline": "middle", "fontSize": 7, "color": "#222222", "font": "DejaVu Sans"},
 "encoding": {"x": {"datum": 9.625, "type": "quantitative", "title": null}, "y": {"datum": 41.664, "type": "quantitative", "title": null}, "text": {"value": "▼"}}},
{"data": {"values": [{}]}, "mark": {"type": "text", "align": "center", "baseline": "middle", "fontSize": 7, "color": "#222222", "font": "DejaVu Sans"},
 "encoding": {"x": {"datum": 22.5, "type": "quantitative", "title": null}, "y": {"datum": 41.664, "type": "quantitative", "title": null}, "text": {"value": "▲"}}},
{"data": {"values": [{}]}, "mark": {"type": "text", "align": "center", "baseline": "middle", "fontSize": 9, "fontWeight": "bold", "color": "#FFFFFF", "font": "DejaVu Sans"},
 "encoding": {"x": {"datum": 5.125, "type": "quantitative", "title": null}, "y": {"datum": 41.583, "type": "quantitative", "title": null}, "text": {"value": "41"}}},
{"data": {"values": [{}]}, "mark": {"type": "text", "align": "center", "baseline": "middle", "fontSize": 9, "fontWeight": "bold", "color": "#FFFFFF", "font": "DejaVu Sans"},
 "encoding": {"x": {"datum": 21.0, "type": "quantitative", "title": null}, "y": {"datum": 41.583, "type": "quantitative", "title": null}, "text": {"value": "41"}}},
{"data": {"values": [{}]}, "mark": {"type": "text", "align": "center", "baseline": "alphabetic", "fontSize": 34, "color": "#FFFFFF", "font": "Liberation Sans"},
 "encoding": {"x": {"datum": 9.75, "type": "quantitative", "title": null}, "y": {"datum": 41.576, "type": "quantitative", "title": null}, "text": {"value": "28"}}},
{"data": {"values": [{}]}, "mark": {"type": "text", "align": "center", "baseline": "alphabetic", "fontSize": 34, "color": "#FFFFFF", "font": "Liberation Sans"},
 "encoding": {"x": {"datum": 25.56, "type": "quantitative", "title": null}, "y": {"datum": 41.576, "type": "quantitative", "title": null}, "text": {"value": "32"}}},
{"data": {"values": [{}]}, "mark": {"type": "text", "align": "center", "baseline": "middle", "fontSize": 14, "fontWeight": "bold", "color": "#FFFFFF", "font": "Liberation Sans"},
 "encoding": {"x": {"datum": 13.19, "type": "quantitative", "title": null}, "y": {"datum": 41.613, "type": "quantitative", "title": null}, "text": {"value": "0"}}},
{"data": {"values": [{}]}, "mark": {"type": "text", "align": "center", "baseline": "middle", "fontSize": 14, "fontWeight": "bold", "color": "#FFFFFF", "font": "Liberation Sans"},
 "encoding": {"x": {"datum": 29.125, "type": "quantitative", "title": null}, "y": {"datum": 41.613, "type": "quantitative", "title": null}, "text": {"value": "0"}}},
{"data": {"values": [{}]}, "mark": {"type": "text", "align": "left", "baseline": "middle", "fontSize": 11, "color": "#000000", "font": "DejaVu Sans"},
 "encoding": {"x": {"datum": 0.5, "type": "quantitative", "title": null}, "y": {"datum": 40.3246, "type": "quantitative", "title": null}, "text": {"value": ".Analyst Views"}}},
{"data": {"values": [{}]}, "mark": {"type": "text", "align": "left", "baseline": "middle", "fontSize": 11.5, "fontWeight": "bold", "color": "#000000", "font": "DejaVu Sans"},
 "encoding": {"x": {"datum": 167.75, "type": "quantitative", "title": null}, "y": {"datum": 40.3106, "type": "quantitative", "title": null}, "text": {"value": "Silver Intraday:"}}},
{"data": {"values": [{}]}, "mark": {"type": "text", "align": "left", "baseline": "middle", "fontSize": 11.5, "color": "#000000", "font": "DejaVu Sans"},
 "encoding": {"x": {"datum": 182.875, "type": "quantitative", "title": null}, "y": {"datum": 40.3106, "type": "quantitative", "title": null}, "text": {"value": "the bias remains bullish."}}}
]
}
